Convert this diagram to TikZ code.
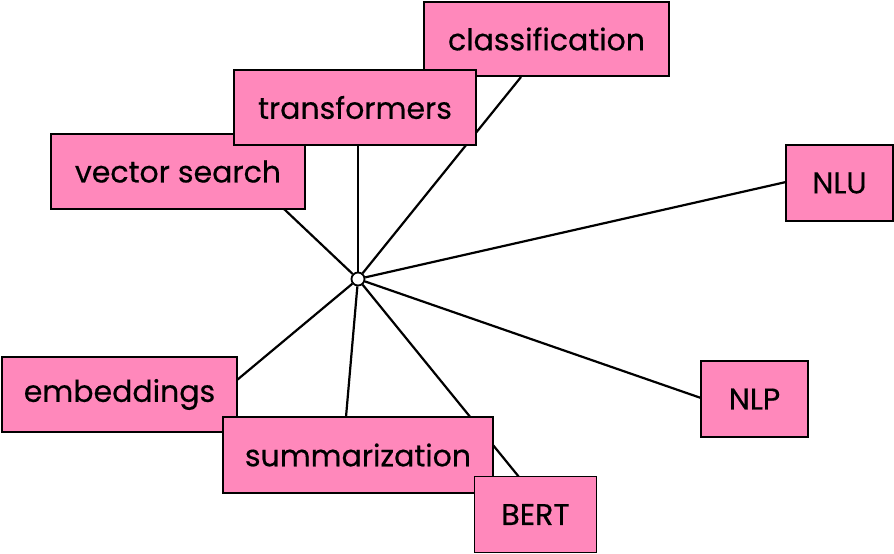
\documentclass[tikz,border=0pt]{standalone}
\usepackage{fontspec}
\setmainfont{Poppins}
\newfontfamily\boxfont{Poppins}[BoldFont=Poppins, BoldFeatures={FakeBold=0.45}]
\definecolor{boxpink}{RGB}{255,136,187}
\begin{document}
\begin{tikzpicture}[x=1pt,y=-1pt,
  box/.style={draw=black, fill=boxpink, line width=2.4pt, inner sep=0pt, font=\boxfont\bfseries\fontsize{30}{36}\selectfont, text=black},
  link/.style={draw=black, line width=2.2pt}]
\useasboundingbox (0,0) rectangle (894,554);
\node[draw=black, fill=white, circle, line width=1.8pt, minimum size=13pt, inner sep=0pt] (hub) at (358,279) {};
\coordinate (ecls) at (521,77);
\coordinate (etra) at (358,145);
\coordinate (evec) at (284,209);
\coordinate (enlu) at (786,182);
\coordinate (enlp) at (701,398);
\coordinate (ebert) at (519,477);
\coordinate (esum) at (346,417);
\coordinate (eemb) at (237,380);
\foreach \e in {ecls,etra,evec,enlu,enlp,ebert,esum,eemb}
  \draw[link] (hub) -- (\e);
\node[box, minimum width=235pt, minimum height=75pt] (emb) at (119.5,394.5) {embeddings};
\node[box, minimum width=270pt, minimum height=76pt] (sum) at (358,455) {summarization};
\node[box, minimum width=122pt, minimum height=76pt, line width=1.8pt] (bert) at (535.5,514.5) {BERT};
\node[box, minimum width=254pt, minimum height=75pt] (vec) at (178,171.5) {vector search};
\node[box, minimum width=245pt, minimum height=74pt] (cls) at (546.5,39) {classification};
\node[box, minimum width=242pt, minimum height=75pt] (tra) at (355,107.5) {transformers};
\node[box, minimum width=107pt, minimum height=76pt] (nlu) at (839.5,183) {NLU};
\node[box, minimum width=107pt, minimum height=76pt] (nlp) at (754.5,399) {NLP};
\end{tikzpicture}
\end{document}
